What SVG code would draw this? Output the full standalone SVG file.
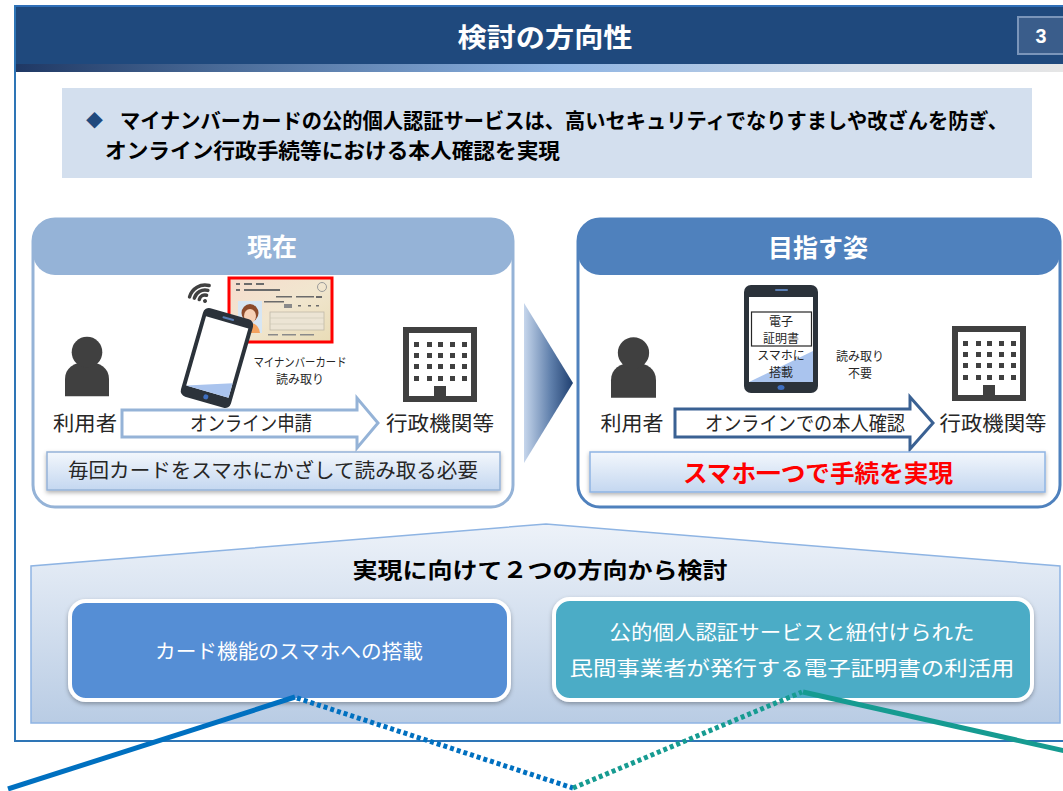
<svg xmlns="http://www.w3.org/2000/svg" xmlns:xlink="http://www.w3.org/1999/xlink" width="1063" height="791" viewBox="0 0 1063 791">
  <style>
    .jp { font-family: "Noto Sans CJK JP", "Noto Sans", sans-serif; }
    .b { font-weight: bold; }
    .white { fill: #ffffff; }
    .dark { fill: #262626; }
    .mid { text-anchor: middle; }
    .lbl { font-size: 20px; }
    .small { font-size: 12px; }
    .icon { fill: #404040; }
  </style>
  <defs>
    <linearGradient id="strip" x1="0" y1="0" x2="1" y2="0">
      <stop offset="0" stop-color="#1f3864"/>
      <stop offset="0.2" stop-color="#4a6b98"/>
      <stop offset="0.52" stop-color="#8eb4e3"/>
      <stop offset="0.8" stop-color="#cdd8e6"/>
      <stop offset="1" stop-color="#e6e6e6"/>
    </linearGradient>
    <linearGradient id="chevron" x1="0" y1="0" x2="1" y2="0">
      <stop offset="0" stop-color="#c6d6ec"/>
      <stop offset="0.55" stop-color="#5f7fab"/>
      <stop offset="1" stop-color="#1f3f70"/>
    </linearGradient>
    <linearGradient id="noteFill" x1="0" y1="0" x2="0" y2="1">
      <stop offset="0" stop-color="#f3f7fc"/>
      <stop offset="1" stop-color="#c4d7f0"/>
    </linearGradient>
    <linearGradient id="houseFill" x1="0" y1="0" x2="0" y2="1">
      <stop offset="0" stop-color="#edf2f9"/>
      <stop offset="1" stop-color="#b9cce4"/>
    </linearGradient>
    <linearGradient id="cardFill" x1="0" y1="0" x2="1" y2="1">
      <stop offset="0" stop-color="#f6dccd"/>
      <stop offset="0.5" stop-color="#f1e6cf"/>
      <stop offset="1" stop-color="#e9dcb6"/>
    </linearGradient>
    <filter id="shadow" x="-10%" y="-10%" width="120%" height="130%">
      <feDropShadow dx="0" dy="2" stdDeviation="2" flood-color="#000000" flood-opacity="0.3"/>
    </filter>
    <!-- person silhouette -->
    <symbol id="person" viewBox="0 0 46 62" overflow="visible">
      <path class="icon" d="M0,62 L0,44 C0,33 9,26 23,26 C37,26 46,33 46,44 L46,62 Z"/>
      <circle class="icon" cx="23" cy="16" r="16"/>
    </symbol>
    <!-- office building -->
    <symbol id="building" viewBox="0 0 74 75" overflow="visible">
      <rect x="3" y="3" width="68" height="69" fill="#ffffff" stroke="#404040" stroke-width="6"/>
      <g class="icon">
        <rect x="11" y="15" width="5" height="5"/><rect x="24" y="15" width="5" height="5"/><rect x="35" y="15" width="5" height="5"/><rect x="47" y="15" width="5" height="5"/><rect x="59" y="15" width="5" height="5"/>
        <rect x="11" y="26" width="5" height="5"/><rect x="24" y="26" width="5" height="5"/><rect x="35" y="26" width="5" height="5"/><rect x="47" y="26" width="5" height="5"/><rect x="59" y="26" width="5" height="5"/>
        <rect x="11" y="37" width="5" height="5"/><rect x="24" y="37" width="5" height="5"/><rect x="35" y="37" width="5" height="5"/><rect x="47" y="37" width="5" height="5"/><rect x="59" y="37" width="5" height="5"/>
        <rect x="11" y="49" width="5" height="5"/><rect x="24" y="49" width="5" height="5"/><rect x="35" y="49" width="5" height="5"/><rect x="47" y="49" width="5" height="5"/><rect x="59" y="49" width="5" height="5"/>
        <rect x="31" y="59" width="12" height="16"/>
      </g>
    </symbol>
  </defs>

  <rect width="1063" height="791" fill="#ffffff"/>

  <!-- page header -->
  <g id="header">
    <rect x="15" y="5" width="1048" height="59" fill="#1f497d"/>
    <rect x="15" y="5" width="1048" height="2" fill="#2f6fb8"/>
    <rect x="15" y="64" width="1048" height="8" fill="url(#strip)"/>
    <text class="jp b white mid" x="545" y="47" font-size="26" textLength="175" lengthAdjust="spacingAndGlyphs">検討の方向性</text>
    <rect x="1018" y="17" width="52" height="37" fill="#3a5d8b" stroke="#7a95ba" stroke-width="2"/>
    <text class="b white mid" x="1041" y="43" font-family="Liberation Sans, Arial, sans-serif" font-size="21" textLength="11" lengthAdjust="spacingAndGlyphs">3</text>
  </g>

  <!-- slide frame -->
  <g id="frame" fill="none" stroke="#2e75b6" stroke-width="2">
    <line x1="15" y1="5" x2="15" y2="741"/>
    <line x1="14" y1="741" x2="1063" y2="741"/>
  </g>

  <!-- summary -->
  <g id="summary">
    <rect x="62" y="88" width="970" height="90" fill="#d3dfee"/>
    <text class="jp" x="86" y="127" font-size="17" fill="#1f497d">◆</text>
    <text class="jp b" x="120" y="128" font-size="21" fill="#000000" textLength="888" lengthAdjust="spacingAndGlyphs">マイナンバーカードの公的個人認証サービスは、高いセキュリティでなりすましや改ざんを防ぎ、</text>
    <text class="jp b" x="105" y="158" font-size="21" fill="#000000" textLength="455" lengthAdjust="spacingAndGlyphs">オンライン行政手続等における本人確認を実現</text>
  </g>

  <!-- current state panel -->
  <g id="panel-current">
    <rect x="33" y="219" width="480" height="288" rx="22" fill="#ffffff" stroke="#95b3d7" stroke-width="3"/>
    <rect x="33" y="219" width="480" height="56" rx="22" fill="#95b3d7"/>
    <text class="jp b white mid" x="272" y="256" font-size="25">現在</text>

    <use href="#person" x="65" y="336" width="44" height="61"/>
    <text class="jp dark mid lbl" x="85" y="431" textLength="64" lengthAdjust="spacingAndGlyphs">利用者</text>

    <!-- My Number card -->
    <g id="card">
      <rect x="229" y="278" width="103" height="64" fill="url(#cardFill)" stroke="#ff0000" stroke-width="3"/>
      <g fill="#6b6b6b">
        <rect x="236" y="283" width="4" height="2"/><rect x="244" y="283" width="8" height="2"/><rect x="256" y="283" width="8" height="2"/>
        <rect x="236" y="289" width="4" height="2"/><rect x="244" y="289" width="36" height="2"/>
        <rect x="276" y="296" width="16" height="1.5"/><rect x="296" y="296" width="18" height="1.5"/>
        <rect x="264" y="301" width="20" height="1.5"/>
        <rect x="284" y="304" width="8" height="4" fill="#8a8a8a"/>
        <rect x="298" y="305" width="3" height="1.5"/><rect x="308" y="305" width="3" height="1.5"/><rect x="316" y="305" width="3" height="1.5"/>
        <rect x="316" y="296" width="6" height="2"/>
      </g>
      <circle cx="322" cy="287" r="4.5" fill="none" stroke="#9a9a9a" stroke-width="1"/>
      <rect x="270" y="312" width="54" height="18" fill="#ece4d4" stroke="#c0b8a8" stroke-width="0.8"/>
      <g stroke="#cfc6b4" stroke-width="0.6">
        <line x1="270" y1="318" x2="324" y2="318"/><line x1="270" y1="324" x2="324" y2="324"/>
      </g>
      <g fill="#8a8a8a">
        <rect x="268" y="334" width="10" height="1.5"/><rect x="282" y="334" width="14" height="1.5"/><rect x="300" y="334" width="14" height="1.5"/>
        <rect x="238" y="336" width="5" height="2"/>
      </g>
      <rect x="238" y="301" width="24" height="32" fill="#d7e6f3"/>
      <ellipse cx="250" cy="313" rx="8.5" ry="9" fill="#8b4a2b"/>
      <ellipse cx="250" cy="316" rx="6" ry="7" fill="#f6d0b5"/>
      <path d="M240,333 C241,326 245,323 250,323 C255,323 259,326 260,333 Z" fill="#f3a25e"/>
    </g>

    <!-- wireless signal -->
    <g transform="translate(205,301) rotate(-30)" fill="none" stroke="#404040" stroke-width="3.5" stroke-linecap="round">
      <path d="M-4.2,-4.2 A6 6 0 0 1 4.2,-4.2"/>
      <path d="M-7.8,-7.8 A11 11 0 0 1 7.8,-7.8"/>
      <path d="M-11.3,-11.3 A16 16 0 0 1 11.3,-11.3"/>
      <circle cx="0" cy="0" r="2" fill="#404040" stroke="none"/>
    </g>

    <!-- smartphone held over the card -->
    <g transform="translate(217,358) rotate(16)">
      <rect x="-26" y="-46" width="52" height="92" rx="6" fill="#2b323a"/>
      <rect x="-22" y="-37" width="44" height="72" fill="#ffffff"/>
      <polygon points="-22,35 22,20 22,35" fill="#aac4ee"/>
      <rect x="-6" y="-42" width="12" height="2" rx="1" fill="#5b7fb5"/>
      <circle cx="0" cy="40.5" r="2.5" fill="#3f6fc0"/>
    </g>

    <text class="jp dark mid small" x="300" y="367" textLength="93" lengthAdjust="spacingAndGlyphs">マイナンバーカード</text>
    <text class="jp dark mid small" x="300" y="384">読み取り</text>

    <use href="#building" x="403" y="327" width="74" height="75"/>

    <path d="M122,410 L357,410 L357,398 L378,423 L357,448 L357,437 L122,437 Z" fill="#ffffff" stroke="#95b3d7" stroke-width="3" stroke-linejoin="miter"/>
    <text class="jp dark mid lbl" x="251" y="431" textLength="122" lengthAdjust="spacingAndGlyphs">オンライン申請</text>
    <text class="jp dark mid lbl" x="440" y="431" textLength="108" lengthAdjust="spacingAndGlyphs">行政機関等</text>

    <rect x="47" y="452" width="453" height="38" fill="url(#noteFill)" stroke="#95b3d7" stroke-width="1.5" filter="url(#shadow)"/>
    <text class="jp dark mid lbl" x="273" y="478" textLength="410" lengthAdjust="spacingAndGlyphs">毎回カードをスマホにかざして読み取る必要</text>
  </g>

  <!-- transition chevron -->
  <g id="chevron">
    <polygon points="524,303 573,383 524,463" fill="url(#chevron)"/>
  </g>

  <!-- target state panel -->
  <g id="panel-target">
    <rect x="578" y="219" width="482" height="288" rx="22" fill="#ffffff" stroke="#4f81bd" stroke-width="3"/>
    <rect x="578" y="219" width="482" height="56" rx="22" fill="#4f81bd"/>
    <text class="jp b white mid" x="818" y="257" font-size="25">目指す姿</text>

    <use href="#person" x="611" y="337" width="45" height="61"/>
    <text class="jp dark mid lbl" x="632" y="431" textLength="63" lengthAdjust="spacingAndGlyphs">利用者</text>

    <!-- smartphone with certificate -->
    <rect x="744" y="285" width="74" height="108" rx="7" fill="#2b323a"/>
    <rect x="749" y="297" width="64" height="85" fill="#ffffff"/>
    <polygon points="749,382 813,351 813,382" fill="#aac4ee"/>
    <rect x="775" y="289" width="13" height="2" rx="1" fill="#5b7fb5"/>
    <ellipse cx="781" cy="387.5" rx="3.5" ry="2.5" fill="#3f6fc0"/>
    <rect x="751.5" y="312" width="60" height="34" fill="none" stroke="#262626" stroke-width="1.2"/>
    <text class="jp dark mid small" x="781" y="326">電子</text>
    <text class="jp dark mid small" x="781" y="343">証明書</text>
    <text class="jp dark mid small" x="781" y="360">スマホに</text>
    <text class="jp dark mid small" x="781" y="377">搭載</text>

    <text class="jp dark mid small" x="860" y="361">読み取り</text>
    <text class="jp dark mid small" x="860" y="378">不要</text>

    <use href="#building" x="952" y="326" width="74" height="75"/>

    <path d="M675,409 L910,409 L910,397 L933,423 L910,449 L910,437 L675,437 Z" fill="#ffffff" stroke="#3a6193" stroke-width="3"/>
    <text class="jp dark mid lbl" x="805" y="431" textLength="200" lengthAdjust="spacingAndGlyphs">オンラインでの本人確認</text>
    <text class="jp dark mid lbl" x="993" y="431" textLength="107" lengthAdjust="spacingAndGlyphs">行政機関等</text>

    <rect x="590" y="452" width="455" height="40" fill="url(#noteFill)" stroke="#8eb4e3" stroke-width="1.5" filter="url(#shadow)"/>
    <text class="jp b mid" x="818" y="482" font-size="24" fill="#ff0000" textLength="270" lengthAdjust="spacingAndGlyphs">スマホ一つで手続を実現</text>
  </g>

  <!-- two approaches -->
  <g id="approaches">
    <polygon points="31,723 31,566 546,524 1060,566 1060,723" fill="url(#houseFill)" stroke="#8eb4e3" stroke-width="1.5"/>
    <text class="jp b mid" x="540" y="578" font-size="22" fill="#000000" textLength="375" lengthAdjust="spacingAndGlyphs">実現に向けて２つの方向から検討</text>
  </g>

  <g id="approach-card">
    <rect x="70" y="601" width="439" height="99" rx="16" fill="#558ed5" stroke="#ffffff" stroke-width="4" filter="url(#shadow)"/>
    <text class="jp white mid lbl" x="289" y="659" textLength="268" lengthAdjust="spacingAndGlyphs">カード機能のスマホへの搭載</text>
  </g>

  <g id="approach-cert">
    <rect x="554" y="599" width="478" height="101" rx="16" fill="#4bacc6" stroke="#ffffff" stroke-width="4" filter="url(#shadow)"/>
    <text class="jp white mid lbl" x="792" y="640" textLength="365" lengthAdjust="spacingAndGlyphs">公的個人認証サービスと紐付けられた</text>
    <text class="jp white mid lbl" x="792" y="676" textLength="445" lengthAdjust="spacingAndGlyphs">民間事業者が発行する電子証明書の利活用</text>
  </g>

  <!-- connectors -->
  <g id="connectors" fill="none" stroke-width="5">
    <line x1="8" y1="789" x2="295" y2="697" stroke="#0070c0"/>
    <line x1="297" y1="698" x2="573" y2="788" stroke="#0070c0" stroke-dasharray="4 3"/>
    <line x1="573" y1="788" x2="802" y2="692" stroke="#169b91" stroke-dasharray="4 3"/>
    <line x1="803" y1="692" x2="1065" y2="751" stroke="#169b91"/>
  </g>
</svg>
